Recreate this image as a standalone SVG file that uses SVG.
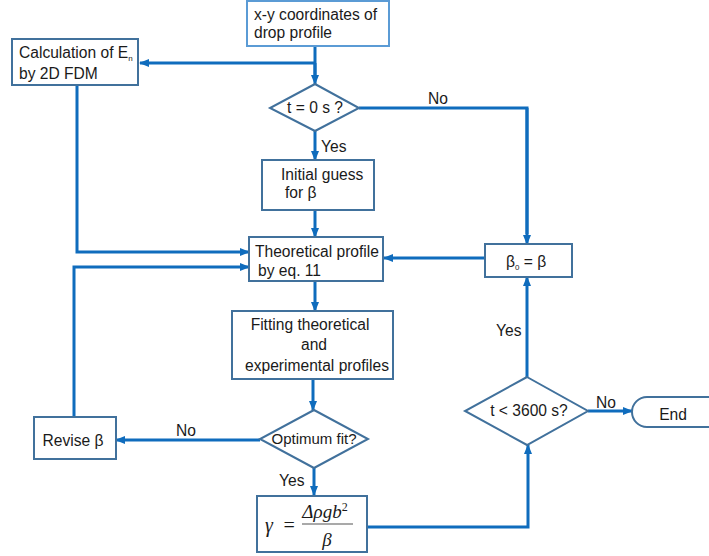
<svg xmlns="http://www.w3.org/2000/svg" width="709" height="556" viewBox="0 0 709 556">
<defs>
<marker id="ah" markerWidth="10" markerHeight="8" refX="9" refY="4" orient="auto" markerUnits="userSpaceOnUse">
<path d="M0,0 L10,4 L0,8 Z" fill="#0F6CBD"/>
</marker>
</defs>
<style>
.box{fill:#fff;stroke:#41719C;stroke-width:2}
.box2{fill:#fff;stroke:#5B9BD5;stroke-width:2}
.t{font-family:"Liberation Sans",Arial,sans-serif;font-size:15.6px;fill:#1a1a1a}
.c{text-anchor:middle}
.con{fill:none;stroke:#0F6CBD;stroke-width:3}
.arr{marker-end:url(#ah)}
.m{font-family:"Liberation Serif","DejaVu Serif",serif;font-style:italic;fill:#1a1a1a}
</style>
<rect width="709" height="556" fill="#fff"/>
<g id="connectors">
<path class="con" d="M315,46 V75"/>
<path class="con arr" d="M315,63 H140"/>
<path class="con arr" d="M315,63 V84"/>
<path class="con" d="M359,108 H527 V234"/>
<path class="con arr" d="M527,108 V244"/>
<path class="con arr" d="M315,131 V160"/>
<path class="con arr" d="M315,210 V237"/>
<path class="con arr" d="M77,85 V252 H249"/>
<path class="con arr" d="M74,417 V267 H249"/>
<path class="con arr" d="M485,258 H384"/>
<path class="con arr" d="M315,281 V311"/>
<path class="con arr" d="M313,379 V410"/>
<path class="con arr" d="M260,440 H116"/>
<path class="con arr" d="M314,468 V495"/>
<path class="con arr" d="M367,527 H528 V445"/>
<path class="con arr" d="M527,377 V277"/>
<path class="con arr" d="M588,411 H632"/>
<text class="t" x="428" y="104">No</text>
<text class="t" x="321" y="152">Yes</text>
<text class="t" x="176" y="436">No</text>
<text class="t" x="279" y="486">Yes</text>
<text class="t" x="496" y="336">Yes</text>
<text class="t" x="596" y="408">No</text>
</g>
<g id="start">
<rect class="box2" x="247" y="1" width="142" height="45"/>
<text class="t" x="254" y="20">x-y coordinates of</text>
<text class="t" x="254" y="38">drop profile</text>
</g>
<g id="calc">
<rect class="box" x="12" y="39" width="126" height="46"/>
<text class="t" x="19" y="58">Calculation of E<tspan font-size="8" dy="3">n</tspan></text>
<text class="t" x="19" y="79">by 2D FDM</text>
</g>
<g id="t0">
<polygon class="box" points="315,84 359,108 315,131 270,108"/>
<text class="t c" x="315" y="113">t = 0 s ?</text>
</g>
<g id="guess">
<rect class="box" x="262" y="160" width="112" height="50"/>
<text class="t" x="281" y="180">Initial guess</text>
<text class="t" x="285" y="198">for β</text>
</g>
<g id="theory">
<rect class="box" x="249" y="237" width="134" height="44"/>
<text class="t" x="255" y="257">Theoretical profile</text>
<text class="t" x="258" y="276">by eq. 11</text>
</g>
<g id="beta0">
<rect class="box" x="485" y="244" width="87" height="33"/>
<text class="t" x="506" y="267">β<tspan font-size="8" dy="3">0</tspan><tspan dy="-3"> = β</tspan></text>
</g>
<g id="fitting">
<rect class="box" x="232" y="311" width="161" height="68"/>
<text class="t c" x="310" y="330">Fitting theoretical</text>
<text class="t c" x="314" y="350">and</text>
<text class="t c" x="317" y="371">experimental profiles</text>
</g>
<g id="optimum">
<polygon class="box" points="314,410 368,439 314,468 260,439"/>
<text class="t c" x="314" y="444" style="font-size:15px">Optimum fit?</text>
</g>
<g id="revise">
<rect class="box" x="34" y="417" width="82" height="42"/>
<text class="t c" x="73" y="446">Revise β</text>
</g>
<g id="gamma">
<rect class="box" x="257" y="496" width="110" height="56"/>
<text class="m" x="265" y="532" font-size="20">γ</text>
<text class="m" x="289" y="532" font-size="20" font-style="normal" text-anchor="middle">=</text>
<line x1="302" y1="524" x2="353" y2="524" stroke="#555" stroke-width="1.2"/>
<text class="m" x="325" y="518" font-size="19" text-anchor="middle">Δρgb<tspan font-size="12" dy="-7" font-style="normal">2</tspan></text>
<text class="m" x="327" y="546" font-size="19" text-anchor="middle">β</text>
</g>
<g id="t3600">
<polygon class="box" points="527,377 588,411 527,445 465,411"/>
<text class="t c" x="529" y="416">t &lt; 3600 s?</text>
</g>
<g id="end">
<rect class="box" x="632" y="397" width="95" height="30" rx="15"/>
<text class="t c" x="673" y="420">End</text>
</g>
</svg>
